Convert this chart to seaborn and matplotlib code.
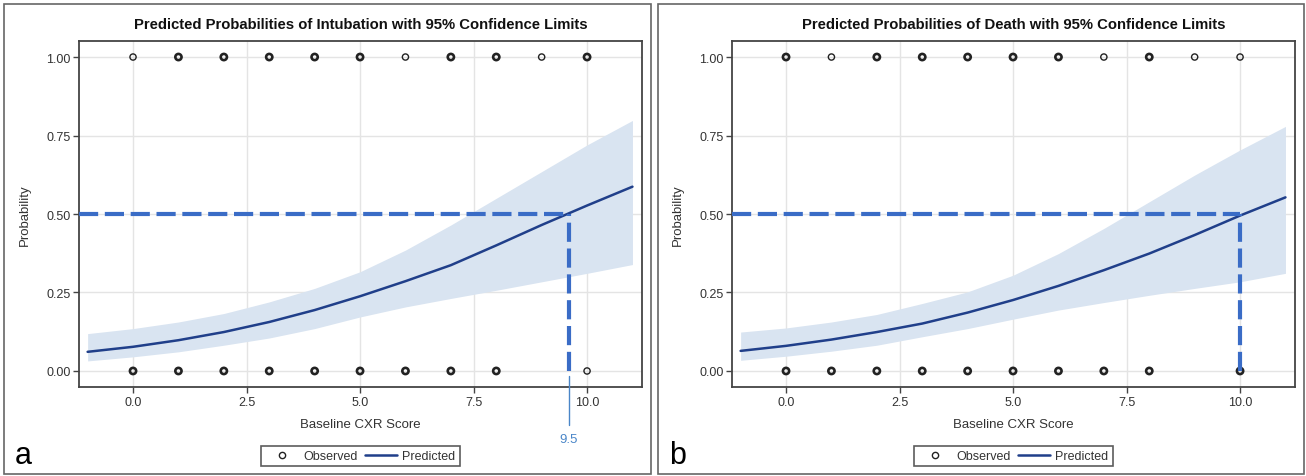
import numpy as np
import pandas as pd
import matplotlib
matplotlib.use("Agg")
import matplotlib.pyplot as plt
import seaborn as sns
from matplotlib.lines import Line2D
from matplotlib.patches import Rectangle

# ---------------- data ----------------
score = [-1, 0, 1, 2, 3, 4, 5, 6, 7, 8, 9, 10, 11]

intub_pred = [0.061, 0.077, 0.098, 0.124, 0.156, 0.194, 0.238, 0.286, 0.337, 0.400, 0.465, 0.527, 0.587]
intub_upper = [0.119, 0.135, 0.156, 0.183, 0.220, 0.263, 0.316, 0.385, 0.465, 0.550, 0.635, 0.720, 0.798]
intub_lower = [0.032, 0.045, 0.061, 0.082, 0.105, 0.135, 0.172, 0.204, 0.231, 0.257, 0.284, 0.311, 0.339]

death_pred = [0.064, 0.080, 0.100, 0.124, 0.151, 0.186, 0.226, 0.271, 0.321, 0.374, 0.433, 0.495, 0.553]
death_upper = [0.124, 0.137, 0.156, 0.180, 0.215, 0.252, 0.305, 0.374, 0.454, 0.539, 0.624, 0.704, 0.779]
death_lower = [0.034, 0.047, 0.063, 0.082, 0.109, 0.135, 0.165, 0.194, 0.218, 0.241, 0.263, 0.284, 0.311]

# observed outcomes (x = score, y = 0/1), bold = overlapping points, thin = single
intub_obs_x = [0, 1, 2, 3, 4, 5, 6, 7, 8, 9, 10, 0, 1, 2, 3, 4, 5, 6, 7, 8, 10]
intub_obs_y = [1] * 11 + [0] * 10
intub_obs_bold = [0, 1, 1, 1, 1, 1, 0, 1, 1, 0, 1, 1, 1, 1, 1, 1, 1, 1, 1, 1, 0]

death_obs_x = [0, 1, 2, 3, 4, 5, 6, 7, 8, 9, 10, 0, 1, 2, 3, 4, 5, 6, 7, 8, 10]
death_obs_y = [1] * 11 + [0] * 10
death_obs_bold = [1, 0, 1, 1, 1, 1, 1, 0, 1, 0, 0, 1, 1, 1, 1, 1, 1, 1, 1, 1, 1]

threshold = 0.5
intub_cutoff = 9.6
intub_cutoff_label = "9.5"
death_cutoff = 10.0

titles = ["Predicted Probabilities of Intubation with 95% Confidence Limits",
          "Predicted Probabilities of Death with 95% Confidence Limits"]
panel_letters = ["a", "b"]
x_ticks = [0.0, 2.5, 5.0, 7.5, 10.0]
y_ticks = [0.00, 0.25, 0.50, 0.75, 1.00]

# ---------------- style ----------------
sns.set_theme(style="whitegrid")
plt.rcParams["font.family"] = ["Liberation Sans", "DejaVu Sans"]

LINE_C = "#203f8a"
BAND_C = "#d9e4f1"
DASH_C = "#3a6cc6"
TEXT_C = "#333333"
SPINE_C = "#444444"

W, H = 1306, 477
fig = plt.figure(figsize=(W / 100, H / 100), dpi=100)

ax_left_px = [79, 732]
ax_w_px = 563
ax_top_px, ax_bot_px = 41.7, 388.3

panels = [
    (intub_pred, intub_upper, intub_lower, intub_obs_x, intub_obs_y, intub_obs_bold, intub_cutoff),
    (death_pred, death_upper, death_lower, death_obs_x, death_obs_y, death_obs_bold, death_cutoff),
]

border_boxes = [(4, 5, 651, 475), (658, 5, 1304, 475)]

for i, (pred, up, lo, ox, oy, obold, cutoff) in enumerate(panels):
    # outer frame of panel
    x0, y0, x1, y1 = border_boxes[i]
    fig.patches.append(Rectangle((x0 / W, 1 - y1 / H), (x1 - x0) / W, (y1 - y0) / H,
                                 transform=fig.transFigure, fill=False,
                                 edgecolor="#666666", linewidth=1.2))

    ax = fig.add_axes([ax_left_px[i] / W, 1 - ax_bot_px / H, ax_w_px / W,
                       (ax_bot_px - ax_top_px) / H])
    ax.set_facecolor("white")

    df = pd.DataFrame({"score": score, "pred": pred, "upper": up, "lower": lo})
    ax.fill_between(df["score"], df["lower"], df["upper"], color=BAND_C, linewidth=0, zorder=1)
    sns.lineplot(data=df, x="score", y="pred", ax=ax, color=LINE_C, linewidth=1.8, zorder=3)

    obs = pd.DataFrame({"score": ox, "y": oy, "bold": obold})
    lws = [1.9 if b else 1.0 for b in obs["bold"]]
    sns.scatterplot(data=obs, x="score", y="y", ax=ax, marker="o", s=20,
                    facecolor="none", edgecolor="#222222", linewidth=lws, zorder=4)

    xlim = (-1.19, 11.21)
    ax.set_xlim(*xlim)
    ax.set_ylim(-0.052, 1.052)

    # 0.5 reference lines
    ax.plot([xlim[0], cutoff], [threshold, threshold], color=DASH_C, linewidth=3,
            dashes=(4.6, 1.6), dash_capstyle="butt", zorder=5)
    ax.plot([cutoff, cutoff], [0, threshold], color=DASH_C, linewidth=3,
            dashes=(4.6, 1.6), dash_capstyle="butt", zorder=5)

    if i == 0:
        ax.plot([cutoff, cutoff], [-0.015, -0.171], color="#4a86c8", linewidth=1.0,
                clip_on=False, zorder=5)
        ax.text(cutoff, -0.218, intub_cutoff_label, color="#4a86c8", fontsize=9.5,
                ha="center", va="center", clip_on=False)

    ax.set_xticks(x_ticks)
    ax.set_xticklabels([f"{v:.1f}" for v in x_ticks])
    ax.set_yticks(y_ticks)
    ax.set_yticklabels([f"{v:.2f}" for v in y_ticks])
    ax.grid(True, color="#e4e4e4", linewidth=1.0)
    ax.set_axisbelow(True)
    ax.tick_params(axis="both", which="both", length=4, width=1, color=SPINE_C,
                   labelsize=9, labelcolor=TEXT_C, pad=2, left=True, bottom=True)
    for sp in ax.spines.values():
        sp.set_color(SPINE_C)
        sp.set_linewidth(1.3)

    ax.set_xlabel("Baseline CXR Score", fontsize=9.5, color=TEXT_C)
    ax.set_ylabel("Probability", fontsize=9.5, color=TEXT_C)
    ax.xaxis.set_label_coords(0.5, -0.088)
    ax.yaxis.set_label_coords(-0.085, 0.5)

    cx = (ax_left_px[i] + ax_w_px / 2) / W
    fig.text(cx, 1 - 25 / H, titles[i], ha="center", va="center",
             fontsize=10.7, fontweight="bold", color="#111111")

    fig.text((x0 + 11) / W, 1 - 456 / H, panel_letters[i], ha="left", va="center",
             fontsize=22, color="black")

    handles = [
        Line2D([], [], linestyle="none", marker="o", markersize=4.5, markerfacecolor="none",
               markeredgecolor="#222222", markeredgewidth=1.0),
        Line2D([], [], color=LINE_C, linewidth=1.8),
    ]
    leg = fig.legend(handles, ["Observed", "Predicted"], loc="center",
                     bbox_to_anchor=(cx, 1 - 457 / H), ncol=2, frameon=True,
                     fontsize=9, handlelength=2.6, handletextpad=0.4, columnspacing=0.6,
                     borderpad=0.35, borderaxespad=0, fancybox=False)
    leg.get_frame().set_edgecolor("#333333")
    leg.get_frame().set_linewidth(1.2)
    for t in leg.get_texts():
        t.set_color(TEXT_C)

fig.savefig("out.png", dpi=100, facecolor="white")
